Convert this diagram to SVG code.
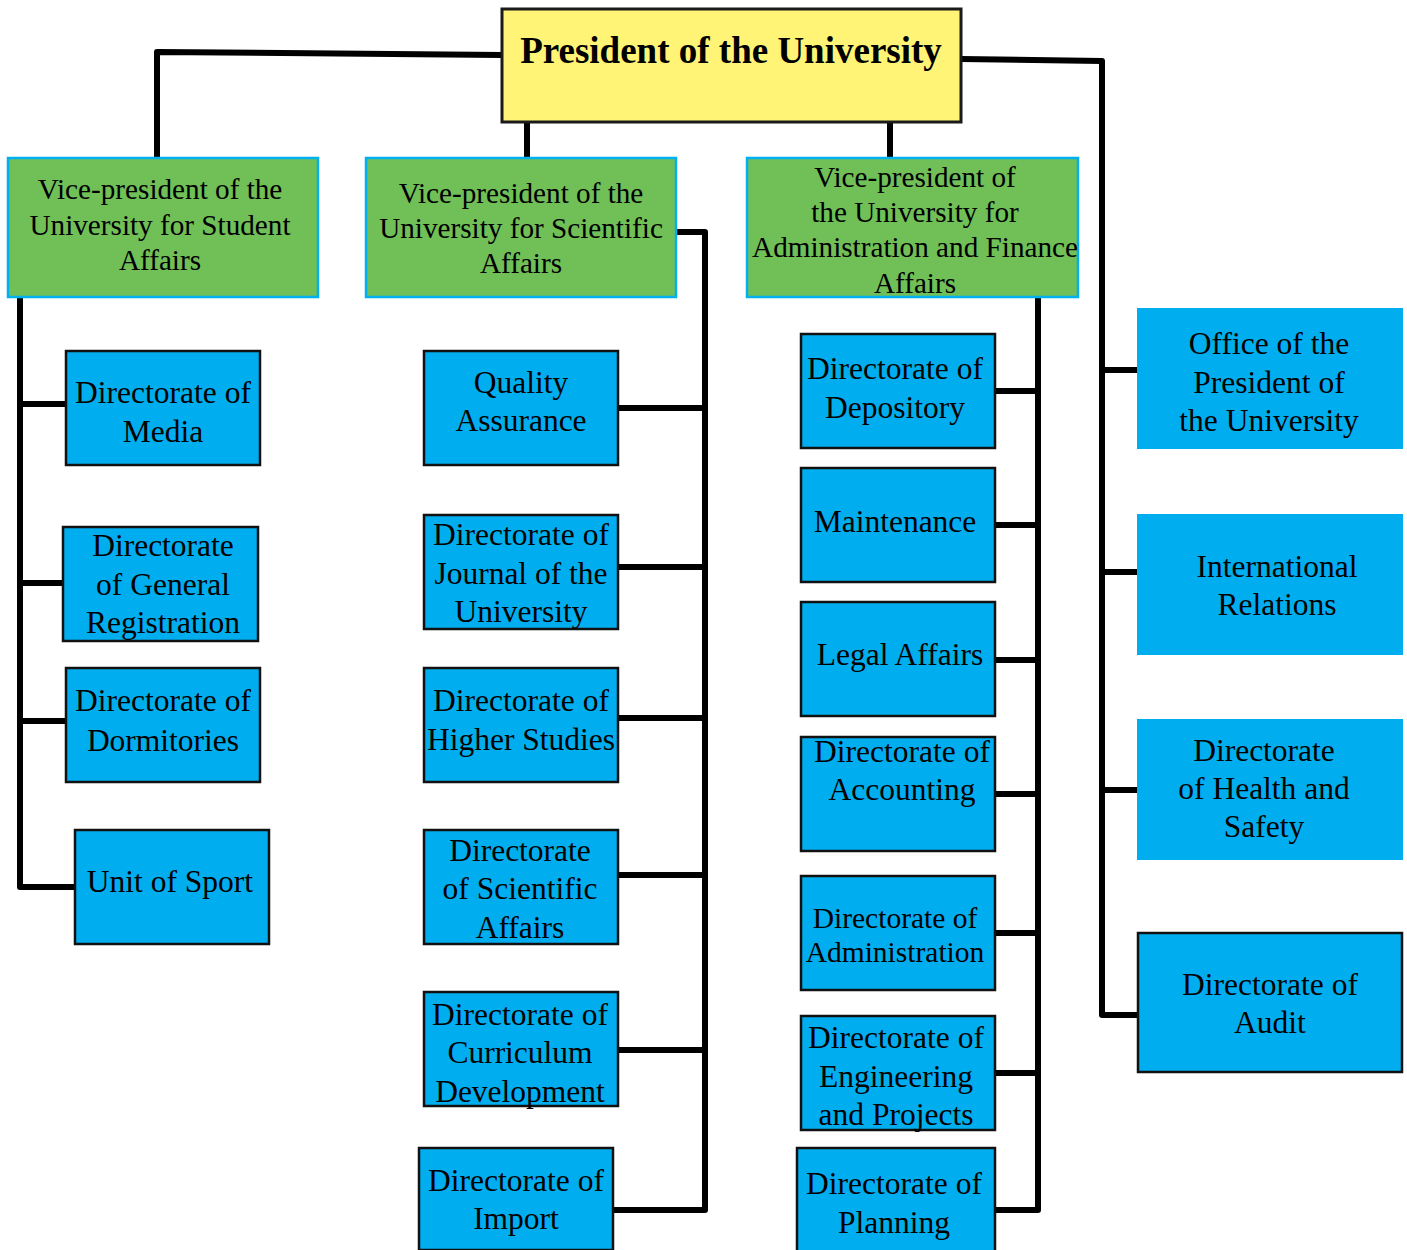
<svg xmlns="http://www.w3.org/2000/svg" width="1407" height="1250" viewBox="0 0 1407 1250">
<style>
text{font-family:"Liberation Serif","Times New Roman",serif;fill:#000;text-anchor:middle}
.pres{fill:#FFF476;stroke:#1a1a1a;stroke-width:3}
.vp{fill:#70BF57;stroke:#00B0F0;stroke-width:2.5}
.dir{fill:#00AEEF;stroke:#111;stroke-width:2.5}
.off{fill:#00AEEF;stroke:none}
.t32{font-size:31.5px}
.t28{font-size:29.2px}
.t30{font-size:29.5px}
.tp{font-size:37px;font-weight:bold}
.c{fill:none;stroke:#000;stroke-width:6;stroke-linejoin:round;stroke-linecap:butt}
</style>
<rect width="1407" height="1250" fill="#fff"/>
<g id="connectors">
<path class="c" d="M502,55 L157,52 L157,158"/>
<path class="c" d="M527,122 L527,158"/>
<path class="c" d="M890,122 L890,158"/>
<path class="c" d="M961,59 L1102,61 L1102,1015 L1137,1015"/>
<path class="c" d="M1102,370 H1137 M1102,572 H1137 M1102,790 H1137"/>
<path class="c" d="M20,297 L20,887 L75,887"/>
<path class="c" d="M20,404 H66 M20,583 H63 M20,721 H66"/>
<path class="c" d="M676,232 L705,232 L705,1210 L613,1210"/>
<path class="c" d="M618,408 H705 M618,567 H705 M618,718 H705 M618,875 H705 M618,1050 H705"/>
<path class="c" d="M1038,297 L1038,1210 L995,1210"/>
<path class="c" d="M995,391 H1038 M995,525 H1038 M995,660 H1038 M995,794 H1038 M995,933 H1038 M995,1073 H1038"/>
</g>
<g id="president"><rect class="pres" x="502" y="9" width="459" height="113"/><text class="tp" x="731" y="63">President of the University</text></g>
<g id="vp-student"><rect class="vp" x="8" y="158" width="310" height="139"/><text class="t28" x="160" y="199">Vice-president of the</text><text class="t28" x="160" y="235">University for Student</text><text class="t28" x="160" y="270">Affairs</text></g>
<g id="vp-scientific"><rect class="vp" x="366" y="158" width="310" height="139"/><text class="t28" x="521" y="203">Vice-president of the</text><text class="t28" x="521" y="238">University for Scientific</text><text class="t28" x="521" y="273">Affairs</text></g>
<g id="vp-admin"><rect class="vp" x="747" y="158" width="331" height="139"/><text class="t28" x="915" y="187">Vice-president of</text><text class="t28" x="915" y="222">the University for</text><text class="t28" x="915" y="257">Administration and Finance</text><text class="t28" x="915" y="293">Affairs</text></g>
<g id="media"><rect class="dir" x="66" y="351" width="194" height="114"/><text class="t32" x="163" y="403">Directorate of</text><text class="t32" x="163" y="442">Media</text></g>
<g id="registration"><rect class="dir" x="63" y="527" width="195" height="114"/><text class="t32" x="163" y="556">Directorate</text><text class="t32" x="163" y="595">of General</text><text class="t32" x="163" y="633">Registration</text></g>
<g id="dormitories"><rect class="dir" x="66" y="668" width="194" height="114"/><text class="t32" x="163" y="711">Directorate of</text><text class="t32" x="163" y="751">Dormitories</text></g>
<g id="sport"><rect class="dir" x="75" y="830" width="194" height="114"/><text class="t32" x="170" y="892">Unit of Sport</text></g>
<g id="quality"><rect class="dir" x="424" y="351" width="194" height="114"/><text class="t32" x="521" y="393">Quality</text><text class="t32" x="521" y="431">Assurance</text></g>
<g id="journal"><rect class="dir" x="424" y="515" width="194" height="114"/><text class="t32" x="521" y="545">Directorate of</text><text class="t32" x="521" y="584">Journal of the</text><text class="t32" x="521" y="622">University</text></g>
<g id="higher"><rect class="dir" x="424" y="668" width="194" height="114"/><text class="t32" x="521" y="711">Directorate of</text><text class="t32" x="521" y="750">Higher Studies</text></g>
<g id="scientific"><rect class="dir" x="424" y="830" width="194" height="114"/><text class="t32" x="520" y="861">Directorate</text><text class="t32" x="520" y="899">of Scientific</text><text class="t32" x="520" y="938">Affairs</text></g>
<g id="curriculum"><rect class="dir" x="424" y="992" width="194" height="114"/><text class="t32" x="520" y="1025">Directorate of</text><text class="t32" x="520" y="1063">Curriculum</text><text class="t32" x="520" y="1102">Development</text></g>
<g id="import"><rect class="dir" x="419" y="1148" width="194" height="102"/><text class="t32" x="516" y="1191">Directorate of</text><text class="t32" x="516" y="1229">Import</text></g>
<g id="depository"><rect class="dir" x="801" y="334" width="194" height="114"/><text class="t32" x="895" y="379">Directorate of</text><text class="t32" x="895" y="418">Depository</text></g>
<g id="maintenance"><rect class="dir" x="801" y="468" width="194" height="114"/><text class="t32" x="895" y="532">Maintenance</text></g>
<g id="legal"><rect class="dir" x="801" y="602" width="194" height="114"/><text class="t32" x="900" y="665">Legal Affairs</text></g>
<g id="accounting"><rect class="dir" x="801" y="737" width="194" height="114"/><text class="t32" x="902" y="762">Directorate of</text><text class="t32" x="902" y="800">Accounting</text></g>
<g id="administration"><rect class="dir" x="801" y="876" width="194" height="114"/><text class="t30" x="895" y="928">Directorate of</text><text class="t30" x="895" y="962">Administration</text></g>
<g id="engineering"><rect class="dir" x="801" y="1016" width="194" height="114"/><text class="t32" x="896" y="1048">Directorate of</text><text class="t32" x="896" y="1087">Engineering</text><text class="t32" x="896" y="1125">and Projects</text></g>
<g id="planning"><rect class="dir" x="797" y="1148" width="198" height="104"/><text class="t32" x="894" y="1194">Directorate of</text><text class="t32" x="894" y="1233">Planning</text></g>
<g id="office"><rect class="off" x="1137" y="308" width="266" height="141"/><text class="t32" x="1269" y="354">Office of the</text><text class="t32" x="1269" y="393">President of</text><text class="t32" x="1269" y="431">the University</text></g>
<g id="international"><rect class="off" x="1137" y="514" width="266" height="141"/><text class="t32" x="1277" y="577">International</text><text class="t32" x="1277" y="615">Relations</text></g>
<g id="health"><rect class="off" x="1137" y="719" width="266" height="141"/><text class="t32" x="1264" y="761">Directorate</text><text class="t32" x="1264" y="799">of Health and</text><text class="t32" x="1264" y="837">Safety</text></g>
<g id="audit"><rect class="dir" x="1138" y="933" width="264" height="139"/><text class="t32" x="1270" y="995">Directorate of</text><text class="t32" x="1270" y="1033">Audit</text></g>
</svg>
